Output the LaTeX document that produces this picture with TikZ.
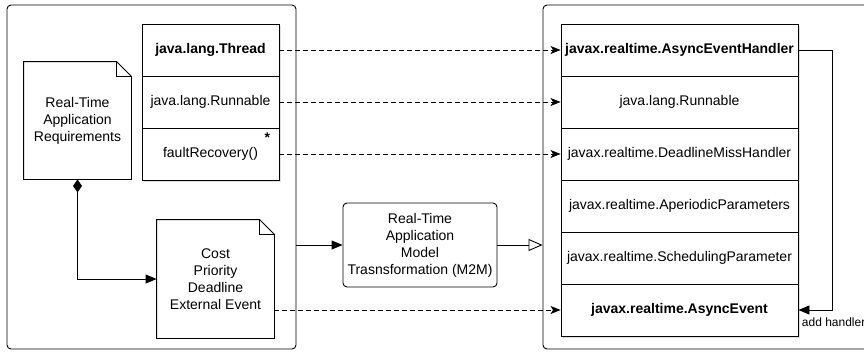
\documentclass[tikz,border=0pt]{standalone}
\usepackage{fontspec}
\setmainfont{Liberation Sans}
\usepackage{tikz}
\usetikzlibrary{arrows.meta, shadows}

\begin{document}
\begin{tikzpicture}[x=1pt, y=-1pt, line width=0.9pt,
  font=\fontsize{14}{17}\selectfont,
  pkg/.style={draw, rounded corners=4pt, inner sep=0pt},
  row/.style={draw, fill=white, inner sep=0pt, minimum height=52pt, drop shadow={shadow xshift=2pt, shadow yshift=-2pt, opacity=0.25}},
  note/.style={inner sep=0pt, align=center},
  dep/.style={dash pattern=on 5pt off 3pt, -{Stealth[length=10pt, width=8pt, inset=2.5pt]}},
  tri/.style={-{Triangle[length=11pt, width=9pt]}}]
\useasboundingbox (0,0) rectangle (864,351);

\node[pkg, minimum width=289pt, minimum height=344pt] (left) at (151.5,177) {};
\node[pkg, minimum width=332pt, minimum height=344pt] (right) at (709,177) {};

\node[row, minimum width=137pt] (thread) at (210.5,50) {\textbf{java.lang.Thread}};
\node[row, minimum width=137pt] (runL) at (210.5,102) {java.lang.Runnable};
\node[row, minimum width=137pt] (fault) at (210.5,154) {faultRecovery()};
\node[anchor=north east, inner sep=0pt] (star) at ([xshift=-9pt, yshift=-5pt]fault.north east) {\textbf{*}};

\node[row, minimum width=237pt] (aeh) at (679.5,50) {\textbf{javax.realtime.AsyncEventHandler}};
\node[row, minimum width=237pt] (runR) at (679.5,102) {java.lang.Runnable};
\node[row, minimum width=237pt] (dmh) at (679.5,154) {javax.realtime.DeadlineMissHandler};
\node[row, minimum width=237pt] (ap) at (679.5,206) {javax.realtime.AperiodicParameters};
\node[row, minimum width=237pt] (sp) at (679.5,258) {javax.realtime.SchedulingParameter};
\node[row, minimum width=237pt] (ae) at (679.5,310) {\textbf{javax.realtime.AsyncEvent}};

\node[note, minimum width=107pt, minimum height=117pt] (req) at (77.5,120.5) {Real-Time\\Application\\Requirements};
\draw (req.north west) -- ([xshift=-15pt]req.north east) -- ([yshift=-15pt]req.north east) -- (req.south east) -- (req.south west) -- cycle;
\draw ([xshift=-15pt]req.north east) |- ([yshift=-15pt]req.north east);

\node[note, minimum width=117pt, minimum height=118pt] (cost) at (215.5,279) {Cost\\Priority\\Deadline\\External Event};
\draw (cost.north west) -- ([xshift=-15pt]cost.north east) -- ([yshift=-15pt]cost.north east) -- (cost.south east) -- (cost.south west) -- cycle;
\draw ([xshift=-15pt]cost.north east) |- ([yshift=-15pt]cost.north east);

\node[draw, rounded corners=4pt, align=center, inner sep=0pt, minimum width=154pt, minimum height=84pt] (m2m) at (420,245) {Real-Time\\Application\\Model\\Trasnsformation (M2M)};

\draw[dep] (thread) -- (aeh);
\draw[dep] (runL) -- (runR);
\draw[dep] (fault) -- (dmh);
\draw[dep] (cost.east |- ae.west) -- (ae.west);
\draw[tri] (left.east |- m2m.west) -- (m2m.west);
\draw[-{Triangle[open, length=14pt, width=12pt]}] (m2m.east) -- (right.west |- m2m.east);
\draw[{Diamond[length=13pt, width=9pt]}-{Triangle[length=11pt, width=9pt]}] (req.south) |- (cost.west);
\draw[tri] (aeh.east) -- ++(34,0) |- (ae.east) node[pos=1, anchor=north west, yshift=-4pt, inner sep=3pt, font=\fontsize{12}{14}\selectfont] (addh) {add handler};
\end{tikzpicture}
\end{document}
